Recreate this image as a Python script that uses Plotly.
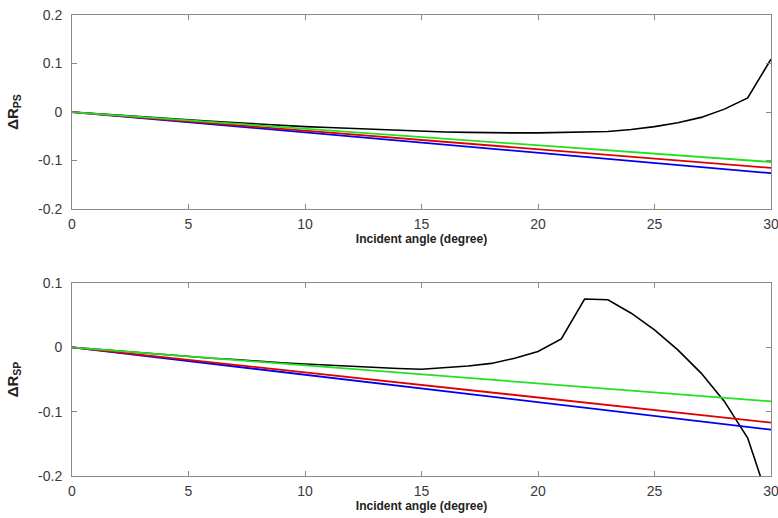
import plotly.graph_objects as go

# ---- data ----
angle = list(range(0, 31))
angle_lin = [0, 5, 10, 15, 20, 25, 30]

# top panel (Delta R_PS)
ps_black = [0, -0.0035, -0.007, -0.010, -0.013, -0.016, -0.019, -0.022, -0.025, -0.027,
            -0.030, -0.032, -0.034, -0.036, -0.038, -0.040, -0.041, -0.042, -0.043, -0.043,
            -0.043, -0.042, -0.041, -0.040, -0.036, -0.030, -0.022, -0.011, 0.006, 0.029, 0.109]
ps_green = [0, -0.017, -0.034, -0.052, -0.069, -0.086, -0.103]
ps_red = [0, -0.019, -0.038, -0.058, -0.077, -0.096, -0.115]
ps_blue = [0, -0.021, -0.042, -0.063, -0.084, -0.105, -0.126]

# bottom panel (Delta R_SP)
sp_black = [0, -0.003, -0.006, -0.009, -0.011, -0.014, -0.017, -0.019, -0.022, -0.024,
            -0.026, -0.028, -0.030, -0.032, -0.033, -0.034, -0.032, -0.029, -0.025, -0.017,
            -0.0065, 0.013, 0.075, 0.074, 0.053, 0.027, -0.004, -0.040, -0.084, -0.141, -0.25]
sp_green = [0, -0.014, -0.028, -0.042, -0.056, -0.070, -0.084]
sp_red = [0, -0.0195, -0.039, -0.0585, -0.078, -0.0975, -0.117]
sp_blue = [0, -0.0213, -0.0427, -0.064, -0.0853, -0.1067, -0.128]

x_ticks = [0, 5, 10, 15, 20, 25, 30]
top_ytick_vals = [-0.2, -0.1, 0, 0.1, 0.2]
top_ytick_text = ["-0.2", "-0.1", "0", "0.1", "0.2"]
bot_ytick_vals = [-0.2, -0.1, 0, 0.1]
bot_ytick_text = ["-0.2", "-0.1", "0", "0.1"]

# ---- figure ----
fig = go.Figure()

def add_panel(xa, ya, black, green, red, blue):
    fig.add_trace(go.Scatter(x=angle, y=black, mode="lines", line=dict(color="black", width=1.6),
                             xaxis=xa, yaxis=ya, showlegend=False))
    fig.add_trace(go.Scatter(x=angle_lin, y=blue, mode="lines", line=dict(color="#0000ee", width=1.8),
                             xaxis=xa, yaxis=ya, showlegend=False))
    fig.add_trace(go.Scatter(x=angle_lin, y=red, mode="lines", line=dict(color="#e00000", width=1.8),
                             xaxis=xa, yaxis=ya, showlegend=False))
    fig.add_trace(go.Scatter(x=angle_lin, y=green, mode="lines", line=dict(color="#22e022", width=1.8),
                             xaxis=xa, yaxis=ya, showlegend=False))

add_panel("x", "y", ps_black, ps_green, ps_red, ps_blue)
add_panel("x2", "y2", sp_black, sp_green, sp_red, sp_blue)

FONT = "Liberation Sans, Arial, sans-serif"
axis_common = dict(showgrid=False, zeroline=False, showline=True, linecolor="#8a8a8a", linewidth=1,
                   mirror="ticks", ticks="inside", ticklen=5, tickcolor="#8a8a8a", automargin=False,
                   ticklabeloverflow="allow",
                   tickfont=dict(family=FONT, size=14, color="#3a3a3a"))

xtitle = dict(text="<b>Incident angle (degree)</b>",
              font=dict(family=FONT, size=12, color="#222"), standoff=0)

fig.update_layout(
    width=778, height=518,
    margin=dict(l=72, r=7, t=15, b=42),
    paper_bgcolor="white", plot_bgcolor="white",
    xaxis=dict(domain=[0, 1], range=[0, 30], tickvals=x_ticks, anchor="y", title=xtitle,
               ticklabelstandoff=2, **axis_common),
    yaxis=dict(domain=[0.579, 1], range=[-0.2, 0.2], tickvals=top_ytick_vals, ticktext=top_ytick_text,
               anchor="x", ticklabelstandoff=6,
               title=dict(text="<b>ΔR<sub>PS</sub></b>",
                          font=dict(family=FONT, size=15, color="#222"), standoff=15),
               **axis_common),
    xaxis2=dict(domain=[0, 1], range=[0, 30], tickvals=x_ticks, anchor="y2", title=xtitle,
                ticklabelstandoff=2, **axis_common),
    yaxis2=dict(domain=[0, 0.4187], range=[-0.2, 0.1], tickvals=bot_ytick_vals, ticktext=bot_ytick_text,
                anchor="x2", ticklabelstandoff=6,
                title=dict(text="<b>ΔR<sub>SP</sub></b>",
                           font=dict(family=FONT, size=15, color="#222"), standoff=15),
                **axis_common),
)

fig.write_html("out.html", config={"displayModeBar": False},
               post_script="document.body.style.margin='0';document.body.style.overflow='hidden';")
